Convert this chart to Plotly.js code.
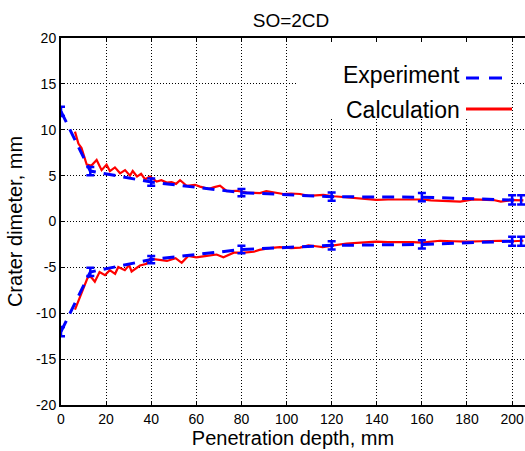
<!DOCTYPE html>
<html>
<head>
<meta charset="utf-8">
<script src="https://cdn.plot.ly/plotly-3.0.1.min.js"></script>
<style>html,body{margin:0;padding:0;background:#fff;}#chart{width:525px;height:451px;}</style>
</head>
<body>
<div id="chart"></div>
<script>
// Experiment (measured, with error bars)
const expX = [0, 13, 40, 80, 120, 160, 200, 204];
const expUpper = [12, 5.5, 4.3, 3.15, 2.7, 2.65, 2.35, 2.35];
const expLower = [-12, -5.5, -4.15, -3.05, -2.6, -2.5, -2.15, -2.15];
const expErr = [0.5, 0.45, 0.4, 0.4, 0.45, 0.45, 0.5, 0.5];

// Calculation (upper branch)
const calcUpperX = [6.2, 7.7, 9.1, 11.4, 13.5, 15.8, 18, 20.2, 21.7, 23.9, 26.2, 28.4, 30.6, 31.8, 33.7, 35.5, 37.3, 39.5, 42.4, 44.5, 46.9, 49, 51, 52.8, 55.7, 59.4, 61.6, 65.3, 68, 70.5, 73.5, 77.9, 82.3, 88.2, 91, 94.1, 98.6, 102, 106, 109.7, 113, 116.3, 121, 126.6, 132, 139.8, 145, 151.6, 156, 160, 164, 168, 172, 177, 182.7, 187, 191.7, 195, 200.6, 205];
const calcUpperY = [9.8, 8.5, 8.0, 6.2, 6.1, 6.7, 5.6, 6.2, 5.5, 5.9, 5.25, 5.6, 5.0, 5.5, 4.9, 5.2, 4.6, 4.9, 4.35, 4.5, 4.25, 4.3, 4.1, 4.5, 3.9, 4.0, 3.8, 3.55, 3.75, 3.9, 3.3, 3.35, 3.15, 3.1, 3.3, 3.2, 3.0, 3.05, 3.0, 2.8, 2.85, 2.9, 2.75, 2.65, 2.5, 2.35, 2.4, 2.42, 2.45, 2.4, 2.3, 2.27, 2.2, 2.16, 2.42, 2.35, 2.34, 2.16, 2.34, 2.3];

// Calculation (lower branch)
const calcLowerX = [6.2, 8.4, 10.6, 12, 13.5, 15, 17.1, 19.5, 21.6, 24, 25.4, 28.3, 30.2, 31.3, 35, 38, 39.5, 43.5, 47, 50.8, 53.5, 56.4, 60, 64.6, 69, 72, 76.6, 81, 85.5, 88, 92.5, 97, 102, 106, 109.7, 113, 116, 121, 126.6, 133, 139.8, 145, 151.6, 156, 160, 164, 168, 174, 180, 186, 190, 195, 200, 205];
const calcLowerY = [-9.6, -8.2, -6.7, -6.0, -6.1, -6.56, -5.5, -5.85, -5.3, -5.7, -4.95, -5.3, -4.75, -5.45, -4.8, -4.6, -4.05, -4.2, -4.3, -4.0, -4.5, -3.75, -3.9, -3.75, -3.6, -3.9, -3.4, -3.4, -3.3, -3.1, -2.9, -2.8, -2.9, -2.85, -2.6, -2.7, -2.8, -2.6, -2.4, -2.3, -2.2, -2.25, -2.2, -2.25, -2.3, -2.2, -2.1, -2.15, -2.2, -2.15, -2.1, -2.1, -2.15, -2.1];

const xTicks = [0, 20, 40, 60, 80, 100, 120, 140, 160, 180, 200];
const yTicks = [-20, -15, -10, -5, 0, 5, 10, 15, 20];
const legendNames = ['Experiment', 'Calculation'];

const RED = '#ff0000', BLUE = '#0000ff';
const FONT = 'Liberation Sans, Arial, sans-serif';

const calcStyle = {mode: 'lines', line: {color: RED, width: 2.2}, showlegend: false, hoverinfo: 'skip'};
const expStyle = {mode: 'lines', line: {color: BLUE, width: 3, dash: '12px,8px'}, showlegend: false, hoverinfo: 'skip'};
const errStyle = (arr) => ({type: 'data', array: arr, visible: true, color: BLUE, thickness: 2.5, width: 4});

const traces = [
  Object.assign({x: calcUpperX, y: calcUpperY}, calcStyle),
  Object.assign({x: calcLowerX, y: calcLowerY}, calcStyle),
  Object.assign({x: expX, y: expUpper, error_y: errStyle(expErr)}, expStyle),
  Object.assign({x: expX, y: expLower, error_y: errStyle(expErr)}, expStyle)
];

// paper-coordinate helpers (plot area: px 61..525 x, 38..405 y)
const px = (p) => (p - 61) / 464;
const py = (p) => (405 - p) / 367;

const layout = {
  width: 525, height: 451,
  margin: {l: 61, r: 0, t: 38, b: 46},
  paper_bgcolor: '#ffffff', plot_bgcolor: '#ffffff',
  font: {family: FONT, color: '#000'},
  title: {text: 'SO=2CD', font: {size: 19, family: FONT, color: '#000'}, xref: 'paper', x: px(291), xanchor: 'center', yref: 'container', y: 1 - 20 / 451, yanchor: 'middle'},
  xaxis: {
    range: [0, (525 - 61) / 2.2555], tickvals: xTicks, ticktext: xTicks.map(String),
    showgrid: true, gridcolor: '#000', gridwidth: 1, griddash: '1px,2px',
    showline: true, linecolor: '#000', linewidth: 2, mirror: 'ticks',
    ticks: 'inside', ticklen: 4, tickcolor: '#000', tickwidth: 1,
    tickfont: {size: 14, family: FONT, color: '#000'}, zeroline: false,
    title: {text: 'Penetration depth, mm', font: {size: 20, family: FONT, color: '#000'}, standoff: 4}
  },
  yaxis: {
    range: [-20, 20], tickvals: yTicks, ticktext: yTicks.map(String),
    showgrid: true, gridcolor: '#000', gridwidth: 1, griddash: '1px,2px',
    showline: true, linecolor: '#000', linewidth: 2, mirror: false,
    ticks: 'inside', ticklen: 4, tickcolor: '#000', tickwidth: 1,
    tickfont: {size: 14, family: FONT, color: '#000'}, zeroline: false,
    title: {text: 'Crater dimeter, mm', font: {size: 20, family: FONT, color: '#000'}, standoff: 8}
  },
  shapes: [
    {type: 'rect', xref: 'x', yref: 'y', x0: 105, x1: 199.4, y0: 11.4, y1: 19.9, fillcolor: '#fff', line: {width: 0}, layer: 'between'},
    {type: 'line', xref: 'paper', yref: 'paper', x0: px(466), x1: px(503), y0: py(78), y1: py(78), line: {color: BLUE, width: 3, dash: '13px,10px'}},
    {type: 'line', xref: 'paper', yref: 'paper', x0: px(466), x1: px(512), y0: py(109), y1: py(109), line: {color: RED, width: 3}}
  ],
  annotations: [
    {text: legendNames[0], xref: 'paper', yref: 'paper', x: px(462), y: py(75), xanchor: 'right', yanchor: 'middle', showarrow: false, font: {size: 23, family: FONT, color: '#000'}},
    {text: legendNames[1], xref: 'paper', yref: 'paper', x: px(462), y: py(110), xanchor: 'right', yanchor: 'middle', showarrow: false, font: {size: 23, family: FONT, color: '#000'}}
  ]
};

Plotly.newPlot('chart', traces, layout, {staticPlot: true, displayModeBar: false});
</script>
</body>
</html>
